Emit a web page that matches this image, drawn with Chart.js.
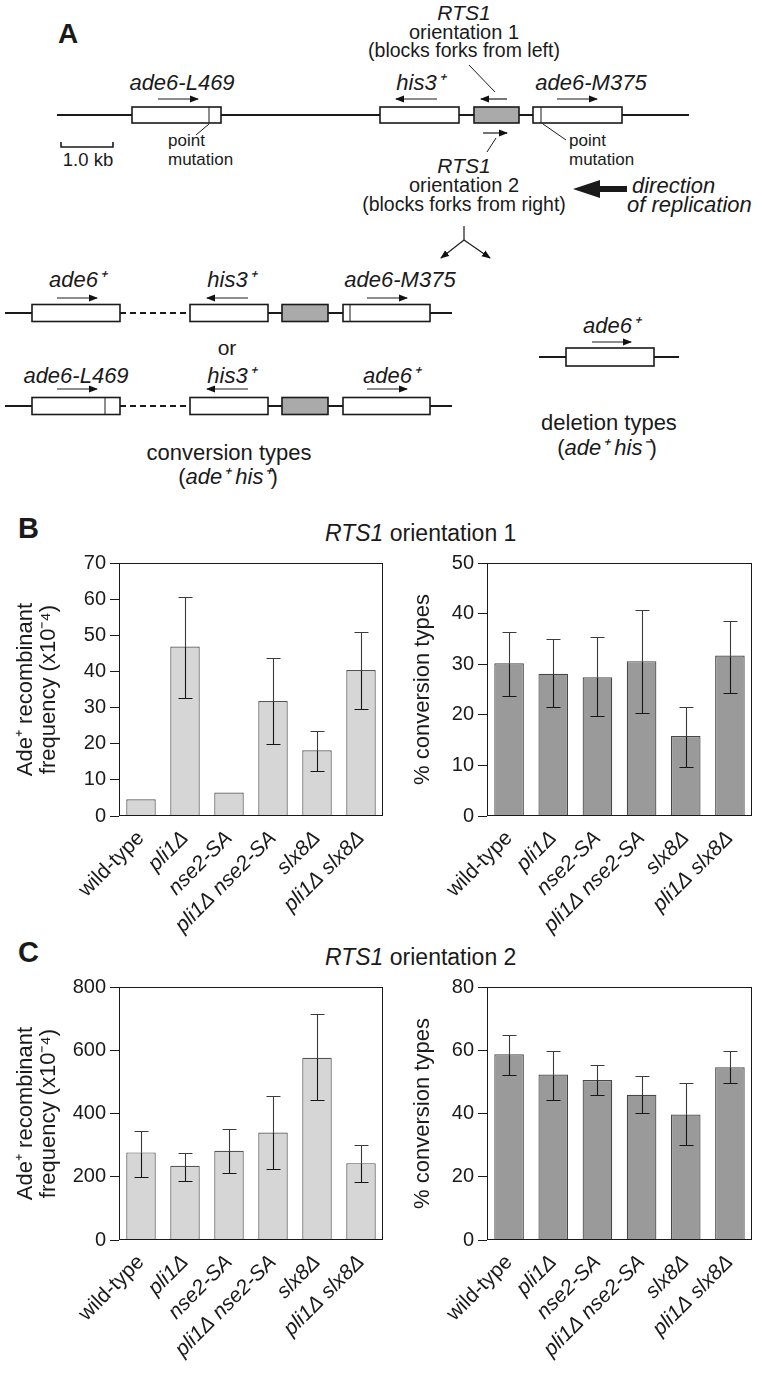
<!DOCTYPE html>
<html>
<head>
<meta charset="utf-8">
<script src="https://cdn.jsdelivr.net/npm/chart.js@4.4.1/dist/chart.umd.min.js"></script>
<style>
  html, body { margin: 0; padding: 0; background: #fff; }
  #page { position: relative; width: 762px; height: 1373px; overflow: hidden; }
  #art { position: absolute; left: 0; top: 0; }
  canvas { position: absolute; }
</style>
</head>
<body>
<div id="page">
  <svg id="art" width="762" height="1373" xmlns="http://www.w3.org/2000/svg">
    <defs>
      <marker id="head" markerWidth="9" markerHeight="8" refX="8" refY="4" orient="auto" markerUnits="userSpaceOnUse">
        <path d="M0,0.5 L9,4 L0,7.5 z" fill="#111"/>
      </marker>
    </defs>
  </svg>
  <canvas id="b1" width="390" height="409" style="left:0px; top:547px;"></canvas>
  <canvas id="b2" width="372" height="409" style="left:390px; top:547px;"></canvas>
  <canvas id="c1" width="390" height="394" style="left:0px; top:971px;"></canvas>
  <canvas id="c2" width="372" height="394" style="left:390px; top:971px;"></canvas>
</div>
<script>
// ---------- data ----------
const strains = ['wild-type', 'pli1Δ', 'nse2-SA', 'pli1Δ nse2-SA', 'slx8Δ', 'pli1Δ slx8Δ'];

// RTS1 orientation 1
const o1Freq   = [4.6, 46.9, 6.5, 31.8, 18.2, 40.4];
const o1FreqHi = [null, 60.5, null, 43.8, 23.6, 50.8];
const o1FreqLo = [null, 32.7, null, 20.0, 12.5, 29.6];
const o1Conv   = [30.2, 28.1, 27.4, 30.6, 15.8, 31.7];
const o1ConvHi = [36.4, 34.9, 35.3, 40.7, 21.5, 38.5];
const o1ConvLo = [23.7, 21.5, 19.7, 20.4, 9.6, 24.4];

// RTS1 orientation 2
const o2Freq   = [277, 235, 282, 340, 576, 243];
const o2FreqHi = [345, 275, 350, 455, 714, 300];
const o2FreqLo = [200, 188, 212, 224, 443, 183];
const o2Conv   = [58.7, 52.3, 50.6, 45.9, 39.7, 54.6];
const o2ConvHi = [64.9, 59.8, 55.3, 51.8, 49.5, 59.8];
const o2ConvLo = [52.3, 44.3, 45.9, 40.2, 29.9, 49.5];

const freqTitle = ['Ade⁺ recombinant', 'frequency (x10⁻⁴)'];
const convTitle = '% conversion types';

const FONT = "'Liberation Sans', Arial, Helvetica, sans-serif";
const INK = '#1a1a1a';

// ---------- panel A diagram + panel letters (svg) ----------
const NS = 'http://www.w3.org/2000/svg';
const svg = document.getElementById('art');

function el(tag, attrs) {
    const e = document.createElementNS(NS, tag);
    for (const k in attrs) e.setAttribute(k, attrs[k]);
    svg.appendChild(e);
    return e;
}
function line(x1, y1, x2, y2, w = 1, extra = {}) {
    return el('line', Object.assign({ x1, y1, x2, y2, stroke: INK, 'stroke-width': w }, extra));
}
function arrow(x1, y, x2, w = 1.2) {
    return line(x1, y, x2, y, w, { 'marker-end': 'url(#head)' });
}
function box(x1, x2, yc, h, fill = '#fff') {
    return el('rect', { x: x1, y: yc - h / 2, width: x2 - x1, height: h, fill, stroke: INK, 'stroke-width': 1.6 });
}
// parts: string or list of [text, italic]
function text(x, y, parts, size = 19, anchor = 'middle', weight = 'normal') {
    const t = el('text', { x, y, 'font-family': FONT, 'font-size': size, 'text-anchor': anchor, 'font-weight': weight, fill: INK });
    if (typeof parts === 'string') parts = [[parts, false]];
    parts.forEach(([s, it]) => {
        const sp = document.createElementNS(NS, 'tspan');
        if (it) sp.setAttribute('font-style', 'italic');
        sp.textContent = s;
        t.appendChild(sp);
    });
    return t;
}

// A: parental construct
text(58, 43, 'A', 28, 'start', 'bold');
line(57, 115, 689, 115, 2);
box(132, 221, 115, 16); line(209, 107, 209, 123, 1);
box(380, 459, 115, 16);
box(474, 519, 115, 16, '#aaaaaa');
box(533, 622, 115, 16); line(541, 107, 541, 123, 1);

text(182, 90, [['ade6-L469', true]], 22);
text(420, 90, [['his3⁺', true]], 22);
text(591, 90, [['ade6-M375', true]], 22);
arrow(158, 99, 198); arrow(437, 99, 396); arrow(507, 99, 481); arrow(557, 99, 597);

text(464, 20, [['RTS1', true]], 21);
text(464, 39, 'orientation 1', 20);
text(464, 57, '(blocks forks from left)', 19.5);
line(469, 65, 495, 92, 1);

arrow(483, 133, 507);
line(487, 152, 496, 138, 1);
text(464, 173, [['RTS1', true]], 21);
text(464, 192, 'orientation 2', 20);
text(464, 211, '(blocks forks from right)', 19.5);

// scale bar
el('path', { d: 'M61,142 V147 H113 V142', fill: 'none', stroke: INK, 'stroke-width': 1.6 });
text(88, 166, '1.0 kb', 18.5);

text(168, 146, 'point', 17, 'start');
text(168, 165, 'mutation', 17, 'start');
line(209, 124, 196, 135, 1);
text(569, 146, 'point', 17, 'start');
text(569, 165, 'mutation', 17, 'start');
line(543, 124, 566, 140, 1);

// direction of replication
el('polygon', { points: '573,189 600,180 600,186 627,186 627,192 600,192 600,198', fill: INK });
text(632, 193, [['direction', true]], 22, 'start');
text(627, 212, [['of replication', true]], 22, 'start');

// fork of products
line(464, 226, 464, 240, 1.2);
line(464, 240, 441, 258, 1.2, { 'marker-end': 'url(#head)' });
line(464, 240, 490, 258, 1.2, { 'marker-end': 'url(#head)' });

// conversion product 1
line(5, 313, 32, 313, 2); box(32, 120, 313, 17);
line(120, 313, 190, 313, 2, { 'stroke-dasharray': '6 4' });
box(190, 268, 313, 17); line(268, 313, 282, 313, 2);
box(282, 328, 313, 17, '#aaaaaa'); line(328, 313, 343, 313, 2);
box(343, 430, 313, 17); line(350, 305, 350, 321, 1);
line(430, 313, 452, 313, 2);
text(77, 287, [['ade6⁺', true]], 22);
text(231, 287, [['his3⁺', true]], 22);
text(400, 287, [['ade6-M375', true]], 22);
arrow(57, 298, 97); arrow(248, 298, 207); arrow(367, 298, 407);

text(227, 355, 'or', 21);

// conversion product 2
line(5, 406, 32, 406, 2); box(32, 120, 406, 17); line(105, 398, 105, 414, 1);
line(120, 406, 190, 406, 2, { 'stroke-dasharray': '6 4' });
box(190, 268, 406, 17); line(268, 406, 282, 406, 2);
box(282, 328, 406, 17, '#aaaaaa'); line(328, 406, 343, 406, 2);
box(343, 430, 406, 17);
line(430, 406, 452, 406, 2);
text(76, 383, [['ade6-L469', true]], 22);
text(231, 383, [['his3⁺', true]], 22);
text(391, 383, [['ade6⁺', true]], 22);
arrow(57, 389, 97); arrow(248, 389, 207); arrow(367, 389, 407);

text(229, 460, 'conversion types', 22);
text(228, 484, [['(', false], ['ade⁺ his⁺', true], [')', false]], 22);

// deletion product
line(539, 357, 679, 357, 2); box(566, 654, 357, 18);
text(611, 333, [['ade6⁺', true]], 22);
arrow(592, 342, 631);
text(609, 430, 'deletion types', 22);
text(607, 455, [['(', false], ['ade⁺ his⁻', true], [')', false]], 22);

// panel letters and titles for B and C
text(18, 538, 'B', 29, 'start', 'bold');
text(325, 541, [['RTS1', true], [' orientation 1', false]], 23, 'start');
text(18, 962, 'C', 29, 'start', 'bold');
text(325, 965, [['RTS1', true], [' orientation 2', false]], 23, 'start');

// ---------- bar charts ----------
Chart.defaults.font.family = FONT;
Chart.defaults.color = INK;

const framePlugin = {
    id: 'frame',
    afterDraw(chart) {
        const { ctx, chartArea: a } = chart;
        ctx.save();
        ctx.strokeStyle = INK;
        ctx.lineWidth = 1;
        const l = Math.round(a.left) + 0.5, t = Math.round(a.top) + 0.5;
        const r = Math.round(a.right) - 0.5, b = Math.round(a.bottom) - 0.5;
        ctx.strokeRect(l, t, r - l, b - t);
        ctx.restore();
    }
};

// whisker above the bar is a little lighter than the part drawn over the bar
const errorBarPlugin = {
    id: 'errorBars',
    afterDatasetsDraw(chart) {
        const ds = chart.data.datasets[0];
        const meta = chart.getDatasetMeta(0);
        const y = chart.scales.y;
        const ctx = chart.ctx;
        ctx.save();
        ctx.lineWidth = 1.1;
        meta.data.forEach((bar, i) => {
            if (ds.errHi[i] == null) return;
            const x = Math.round(bar.x) + 0.5;
            const yh = Math.round(y.getPixelForValue(ds.errHi[i])) + 0.5;
            const yl = Math.round(y.getPixelForValue(ds.errLo[i])) + 0.5;
            const ym = Math.round(bar.y) + 0.5;
            ctx.strokeStyle = '#3c3c3c';
            ctx.beginPath();
            ctx.moveTo(x, yh); ctx.lineTo(x, ym);
            ctx.moveTo(x - 7, yh); ctx.lineTo(x + 7, yh);
            ctx.stroke();
            ctx.strokeStyle = '#161616';
            ctx.beginPath();
            ctx.moveTo(x, ym); ctx.lineTo(x, yl);
            ctx.moveTo(x - 7, yl); ctx.lineTo(x + 7, yl);
            ctx.stroke();
        });
        ctx.restore();
    }
};

function barChart(id, cfg) {
    const canvas = document.getElementById(id);
    return new Chart(canvas.getContext('2d'), {
        type: 'bar',
        data: {
            labels: strains,
            datasets: [{
                data: cfg.values,
                errHi: cfg.hi,
                errLo: cfg.lo,
                backgroundColor: cfg.fill,
                borderColor: cfg.edge,
                borderWidth: 1.2,
                barPercentage: 0.67,
                categoryPercentage: 1.0
            }]
        },
        options: {
            responsive: false,
            animation: false,
            devicePixelRatio: 1,
            layout: { padding: { top: 12, right: cfg.padRight, left: 0, bottom: 0 } },
            plugins: { legend: { display: false }, tooltip: { enabled: false } },
            scales: {
                x: {
                    grid: { display: false },
                    border: { display: false },
                    ticks: {
                        autoSkip: false,
                        maxRotation: 45,
                        minRotation: 45,
                        padding: 2,
                        color: INK,
                        font: (c) => ({ size: 21, style: c.index === 0 ? 'normal' : 'italic' })
                    },
                    afterFit: (s) => { s.height = cfg.xHeight; }
                },
                y: {
                    min: 0,
                    max: cfg.max,
                    ticks: { stepSize: cfg.step, padding: 4, color: INK, font: { size: 20 } },
                    grid: { drawOnChartArea: false, tickLength: 9, color: INK, lineWidth: 1 },
                    border: { display: false },
                    title: {
                        display: true,
                        text: cfg.title,
                        color: INK,
                        font: { size: 22, lineHeight: 1.05 },
                        padding: { top: cfg.titlePad, bottom: 0 }
                    },
                    afterFit: (s) => { s.width = cfg.axisWidth; }
                }
            }
        },
        plugins: [framePlugin, errorBarPlugin]
    });
}

const lightBar = { fill: '#d6d6d6', edge: '#555555', axisWidth: 119, titlePad: 14, padRight: 7 };
const darkBar = { fill: '#9a9a9a', edge: '#474747', axisWidth: 97, titlePad: 21, padRight: 10 };

barChart('b1', Object.assign({}, lightBar, { values: o1Freq, hi: o1FreqHi, lo: o1FreqLo, max: 70, step: 10, title: freqTitle, xHeight: 140 }));
barChart('b2', Object.assign({}, darkBar, { values: o1Conv, hi: o1ConvHi, lo: o1ConvLo, max: 50, step: 10, title: convTitle, xHeight: 140 }));
barChart('c1', Object.assign({}, lightBar, { values: o2Freq, hi: o2FreqHi, lo: o2FreqLo, max: 800, step: 200, title: freqTitle, xHeight: 125 }));
barChart('c2', Object.assign({}, darkBar, { values: o2Conv, hi: o2ConvHi, lo: o2ConvLo, max: 80, step: 20, title: convTitle, xHeight: 125 }));
</script>
</body>
</html>
